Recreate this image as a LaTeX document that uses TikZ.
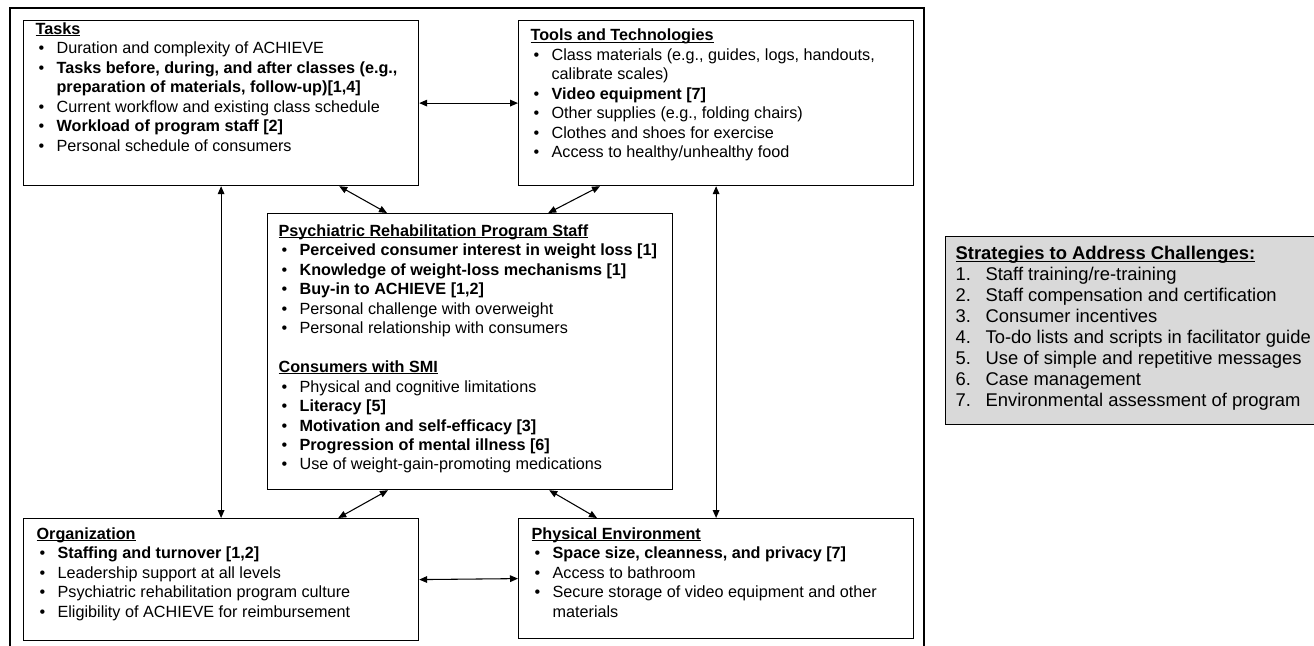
\documentclass[tikz,border=0pt]{standalone}
\usepackage{fontspec}
\setmainfont{Liberation Sans}
\usepackage{tikz}
\usetikzlibrary{arrows.meta,calc}

\newcommand{\panelbox}[5]{\parbox[c][#2][t]{#1}{\raggedright\leftskip=#4\relax\vspace*{#3}#5}}
\newcommand{\head}[1]{\noindent\sbox0{\textbf{#1}}\rlap{\usebox0}\rule[-1.4pt]{\wd0}{0.75pt}\par}
\newcommand{\bul}[1]{\hangindent=15.75pt\hangafter=1\noindent\makebox[15.75pt][l]{\hspace{2.2pt}\textbullet}#1\par}
\newcommand{\stratitem}[2]{\hangindent=22.5pt\hangafter=1\noindent\makebox[22.5pt][l]{#1}#2\par}

\tikzset{
  panel/.style={draw, line width=0.9pt, anchor=north west, inner sep=0pt,
    font=\fontsize{12.15pt}{14.6pt}\selectfont},
  stratpanel/.style={panel, fill={rgb,255:red,217;green,217;blue,217},
    font=\fontsize{13.8pt}{15.75pt}\selectfont},
  twoway/.style={<->, >={Triangle[length=6pt,width=5pt]}, line width=0.8pt},
}

\begin{document}
\begin{tikzpicture}[x=0.75pt,y=0.75pt,yscale=-1,xscale=1]
        \useasboundingbox (0,0) rectangle (1314,646);

        %Shape: outer frame
        \draw [line width=0.9pt] (10,8) rectangle (924,655);

        % Text Node
        \node [panel] (tasks) at (23,20) {\panelbox{296.25pt}{123.75pt}{1.5pt}{9pt}{%
            \head{Tasks}
            \bul{Duration and complexity of ACHIEVE}
            \bul{\textbf{Tasks before, during, and after classes (e.g.,\newline preparation of materials, follow-up)[1,4]}}
            \bul{Current workflow and existing class schedule}
            \bul{\textbf{Workload of program staff [2]}}
            \bul{Personal schedule of consumers}}};
        % Text Node
        \node [panel] (tools) at (518,20) {\panelbox{296.25pt}{123.75pt}{6.3pt}{9pt}{%
            \head{Tools and Technologies}
            \bul{Class materials (e.g., guides, logs, handouts,\newline calibrate scales)}
            \bul{\textbf{Video equipment [7]}}
            \bul{Other supplies (e.g., folding chairs)}
            \bul{Clothes and shoes for exercise}
            \bul{Access to healthy/unhealthy food}}};
        % Text Node
        \node [panel] (staff) at (267,213) {\panelbox{303.75pt}{207pt}{8.25pt}{8.25pt}{%
            \head{Psychiatric Rehabilitation Program Staff}
            \bul{\textbf{Perceived consumer interest in weight loss [1]}}
            \bul{\textbf{Knowledge of weight-loss mechanisms [1]}}
            \bul{\textbf{Buy-in to ACHIEVE [1,2]}}
            \bul{Personal challenge with overweight}
            \bul{Personal relationship with consumers}
            \vspace{\baselineskip}
            \head{Consumers with SMI}
            \bul{Physical and cognitive limitations}
            \bul{\textbf{Literacy [5]}}
            \bul{\textbf{Motivation and self-efficacy [3]}}
            \bul{\textbf{Progression of mental illness [6]}}
            \bul{Use of weight-gain-promoting medications}}};
        % Text Node
        \node [panel] (org) at (23,518) {\panelbox{296.25pt}{91.5pt}{6.75pt}{9.75pt}{%
            \head{Organization}
            \bul{\textbf{Staffing and turnover [1,2]}}
            \bul{Leadership support at all levels}
            \bul{Psychiatric rehabilitation program culture}
            \bul{Eligibility of ACHIEVE for reimbursement}}};
        % Text Node
        \node [panel] (phys) at (518,518) {\panelbox{296.25pt}{90pt}{6.75pt}{9.75pt}{%
            \head{Physical Environment}
            \bul{\textbf{Space size, cleanness, and privacy [7]}}
            \bul{Access to bathroom}
            \bul{Secure storage of video equipment and other\newline materials}}};
        % Text Node
        \node [stratpanel] (strat) at (945,236) {\panelbox{300pt}{141pt}{7.5pt}{7.5pt}{%
            \head{Strategies to Address Challenges:}
            \stratitem{1.}{Staff training/re-training}
            \stratitem{2.}{Staff compensation and certification}
            \stratitem{3.}{Consumer incentives}
            \stratitem{4.}{To-do lists and scripts in facilitator guide}
            \stratitem{5.}{Use of simple and repetitive messages}
            \stratitem{6.}{Case management}
            \stratitem{7.}{Environmental assessment of program}}};

        %Straight Lines
        \draw [twoway] (tasks.east) -- (tools.west);
        \draw [twoway] (org.east) -- (phys.west);
        \draw [twoway] (tasks.south) -- (org.north);
        \draw [twoway] (tools.south) -- (phys.north);
        \draw [twoway] ($(tasks.south east)+(-80,0)$) -- ($(staff.north west)+(120,0)$);
        \draw [twoway] ($(tools.south west)+(82,0)$) -- ($(staff.north east)+(-125,0)$);
        \draw [twoway] ($(staff.south west)+(121,0)$) -- ($(org.north east)+(-81,0)$);
        \draw [twoway] ($(staff.south east)+(-124,0)$) -- ($(phys.north west)+(79,0)$);

    \end{tikzpicture}
\end{document}
